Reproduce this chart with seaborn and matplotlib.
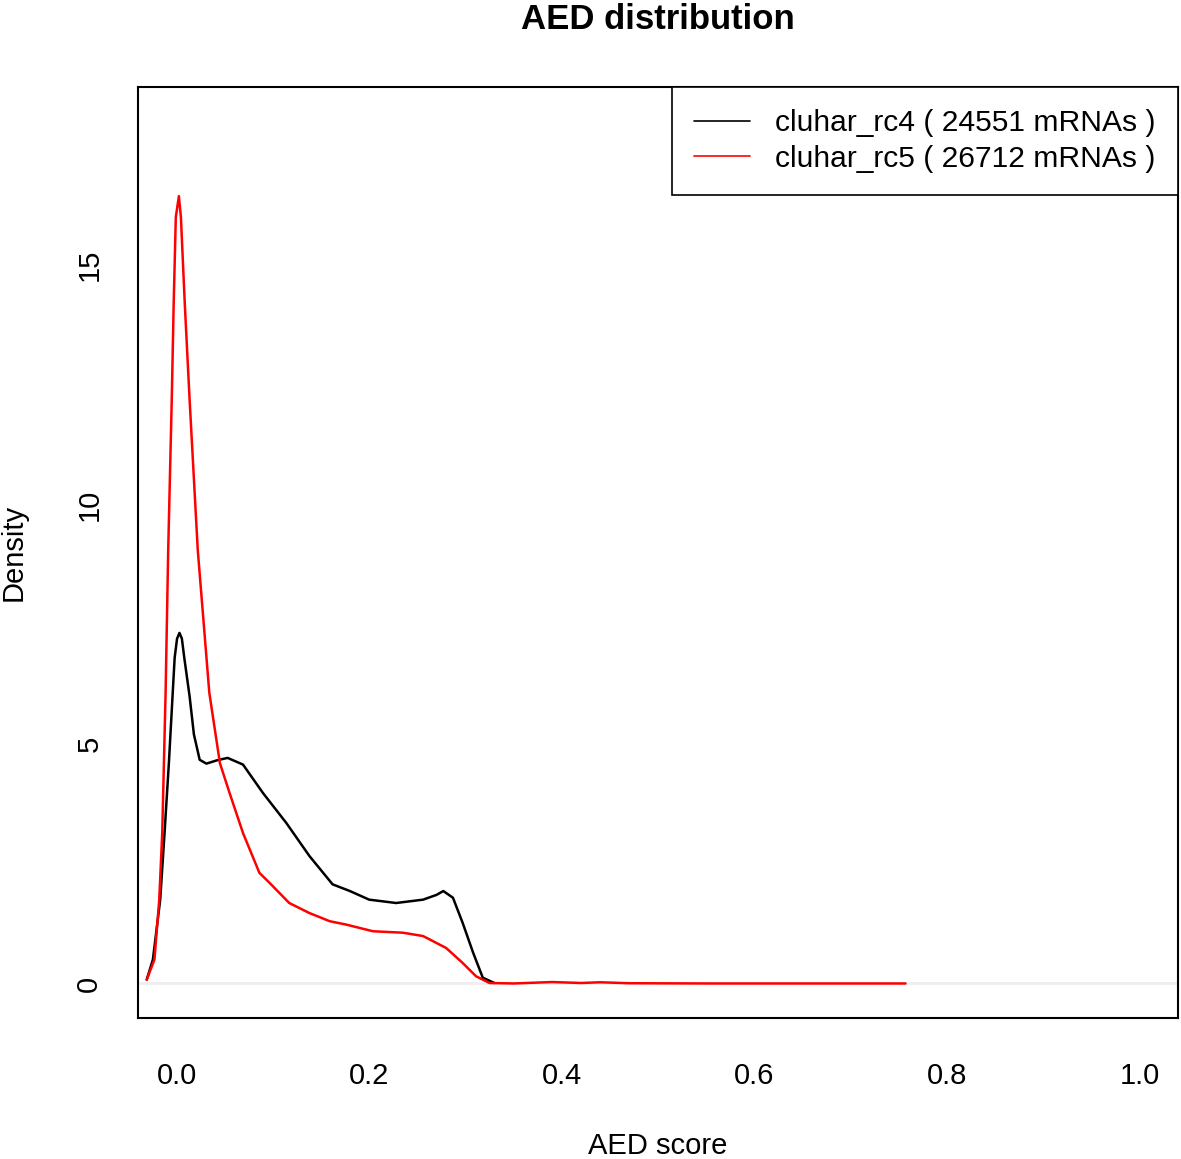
import numpy as np
import pandas as pd
import seaborn as sns
import matplotlib
matplotlib.use("Agg")
import matplotlib.pyplot as plt

# Density curves
rc4_x = [-0.031, -0.0246, -0.017, -0.0125, -0.008, -0.004, -0.002, 0.0005, 0.003, 0.0055,
         0.008, 0.0135, 0.018, 0.024, 0.031, 0.042, 0.053, 0.069, 0.0896, 0.114,
         0.138, 0.162, 0.180, 0.200, 0.228, 0.256, 0.270, 0.277, 0.287, 0.297,
         0.308, 0.318, 0.330]
rc4_y = [0.08, 0.5, 1.75, 3.14, 4.6, 6.07, 6.8, 7.2, 7.32, 7.2,
         6.8, 6.0, 5.2, 4.67, 4.59, 4.66, 4.71, 4.57, 3.98, 3.35,
         2.66, 2.07, 1.93, 1.75, 1.68, 1.75, 1.85, 1.93, 1.79, 1.27,
         0.64, 0.12, 0.01]

rc5_x = [-0.031, -0.023, -0.018, -0.0149, -0.0114, -0.0087, -0.005, -0.003, -0.0008, 0.0024,
         0.0045, 0.0085, 0.0135, 0.022, 0.034, 0.045, 0.055, 0.069, 0.086, 0.0966,
         0.117, 0.138, 0.159, 0.176, 0.204, 0.235, 0.256, 0.280, 0.297, 0.311,
         0.325, 0.35, 0.39, 0.42, 0.44, 0.47, 0.55, 0.65, 0.757]
rc5_y = [0.08, 0.5, 1.75, 3.14, 6.07, 9.05, 12.2, 14.2, 16.0, 16.44,
         16.0, 14.2, 12.2, 9.05, 6.07, 4.6, 3.98, 3.14, 2.31, 2.10,
         1.68, 1.47, 1.30, 1.23, 1.09, 1.06, 0.99, 0.74, 0.43, 0.15,
         0.01, 0.0, 0.03, 0.01, 0.025, 0.005, 0.0, 0.0, 0.0]

names = ["cluhar_rc4", "cluhar_rc5"]
counts = [24551, 26712]
colors = ["black", "red"]
x_ticks = [0.0, 0.2, 0.4, 0.6, 0.8, 1.0]
y_ticks = [0, 5, 10, 15]

labels = [f"{n} ( {c} mRNAs )" for n, c in zip(names, counts)]
df = pd.concat([
    pd.DataFrame({"AED": rc4_x, "density": rc4_y, "set": labels[0]}),
    pd.DataFrame({"AED": rc5_x, "density": rc5_y, "set": labels[1]}),
])

sns.set_style("white")
plt.rcParams["font.family"] = ["Liberation Sans", "DejaVu Sans"]
for k in ["text.color", "axes.labelcolor", "xtick.color", "ytick.color"]:
    plt.rcParams[k] = "black"

fig = plt.figure(figsize=(11.81, 11.59), dpi=100)
ax = fig.add_axes([0.1169, 0.1217, 0.8806, 0.8033])

ax.axhline(0, color="#eeeeee", lw=2, zorder=1)
sns.lineplot(data=df, x="AED", y="density", hue="set", palette=dict(zip(labels, colors)),
             sort=False, estimator=None, lw=1.8, ax=ax, zorder=3)

ax.set_xlim(-0.04, 1.04)
ax.set_ylim(-0.72, 18.72)
ax.set_xticks(x_ticks)
ax.set_xticklabels([f"{t:.1f}" for t in x_ticks])
ax.set_yticks(y_ticks)
ax.set_yticklabels([str(t) for t in y_ticks], rotation=90, va="center")
ax.tick_params(axis="both", direction="out", length=13, width=1.2, labelsize=21, color="black")
ax.tick_params(axis="x", pad=19)
ax.tick_params(axis="y", pad=12)
for s in ax.spines.values():
    s.set_visible(True)
    s.set_color("black")
    s.set_linewidth(1.5)

ax.set_xlabel("AED score", fontsize=21, labelpad=30)
ax.set_ylabel("Density", fontsize=21, labelpad=34)
ax.set_title("AED distribution", fontsize=25, fontweight="bold", pad=42)

leg = ax.legend(loc="upper right", borderaxespad=0, prop={"size": 21.6}, frameon=True, fancybox=False,
                framealpha=1, edgecolor="black", handlelength=1.87, handletextpad=0.83,
                borderpad=0.75, labelspacing=0.25)
leg.get_frame().set_linewidth(1.2)
for h in leg.get_lines():
    h.set_linewidth(1.2)

fig.savefig("out.png", dpi=100)
